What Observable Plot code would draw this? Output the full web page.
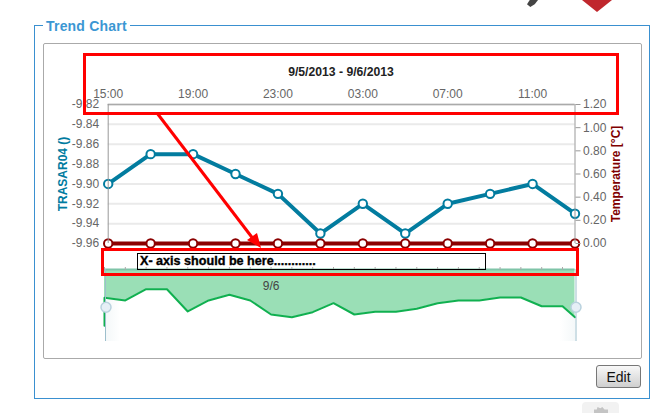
<!DOCTYPE html>
<html><head><meta charset="utf-8">
<script src="https://cdn.jsdelivr.net/npm/d3@7"></script>
<script src="https://cdn.jsdelivr.net/npm/@observablehq/plot@0.6"></script>
<style>
html,body{margin:0;padding:0;background:#fff;overflow:hidden}
#page{position:relative;width:662px;height:413px;overflow:hidden;font-family:"Liberation Sans",Arial,sans-serif}
#page>*{position:absolute}
#page svg{background:transparent}
.layer{left:0;top:0;width:662px;height:413px}
#fieldset{left:34px;top:25px;width:614px;height:372px;border:1px solid #3a90d0}
#legend{left:43px;top:18px;padding:0 3px;background:#fff;color:#3b97d3;font-weight:bold;font-size:14px;line-height:17px;letter-spacing:.2px}
#inner{left:43px;top:43px;width:597px;height:314px;border:1px solid #aaa;border-radius:2px}
#title{left:0;width:682px;top:65px;text-align:center;font-weight:bold;font-size:12.2px;line-height:15px;color:#222}
#box1{left:83px;top:53px;width:530px;height:56px;border:3px solid #f00}
#box2{left:101px;top:248px;width:472px;height:22px;border:3px solid #f00}
#box3{left:137px;top:253px;width:347px;height:15px;border:1px solid #000}
#note{left:140px;top:254px;font:bold 12.6px "Liberation Sans",sans-serif;line-height:15px;color:#000;white-space:pre;-webkit-text-stroke:.35px #000}
#edit{left:596px;top:365px;width:43px;height:21px;border:1px solid #777;border-radius:3px;background:linear-gradient(#f8f8f8,#cfcfcf);text-align:center;font-size:14px;line-height:22px;color:#111}
#diamond{left:582px;top:-8px;width:30px;height:20px;background:#c0272d;clip-path:polygon(0 40%,100% 40%,50% 100%)}
#icon{left:527px;top:0;width:11px;height:7px;background:#444;clip-path:polygon(25% 0,100% 0,70% 60%,30% 100%,0 60%)}
#gear{left:582px;top:402px;width:37px;height:14px;background:#f2f2f2;border-radius:4px}
#gearGlyph{left:594px;top:407px;width:14px;height:6px;background:#c4c4c4;clip-path:polygon(0 40%,20% 40%,25% 0,45% 20%,60% 0,75% 40%,100% 40%,100% 100%,0 100%)}
#shadeL{left:106px;top:300px;width:14px;height:41px;background:linear-gradient(90deg,#f4f8f9,#fff)}
#shadeR{left:560px;top:300px;width:15px;height:41px;background:linear-gradient(270deg,#f4f8f9,#fff)}
</style></head><body>
<div id="page"></div>
<script>
// Main chart
const times = ["2013-09-05T15:00Z","2013-09-05T17:00Z","2013-09-05T19:00Z","2013-09-05T21:00Z","2013-09-05T23:00Z","2013-09-06T01:00Z","2013-09-06T03:00Z","2013-09-06T05:00Z","2013-09-06T07:00Z","2013-09-06T09:00Z","2013-09-06T11:00Z","2013-09-06T13:00Z"].map(d=>new Date(d));
const trasar = [-9.90,-9.87,-9.87,-9.89,-9.91,-9.95,-9.92,-9.95,-9.92,-9.91,-9.90,-9.93];
const temperature = [0,0,0,0,0,0,0,0,0,0,0,0];
const timeTicks = ["2013-09-05T15:00Z","2013-09-05T19:00Z","2013-09-05T23:00Z","2013-09-06T03:00Z","2013-09-06T07:00Z","2013-09-06T11:00Z"].map(d=>new Date(d));
const trasarTicks = [-9.82,-9.84,-9.86,-9.88,-9.90,-9.92,-9.94,-9.96];
const tempTicks = [0,0.2,0.4,0.6,0.8,1.0,1.2];
// Navigator series (hours from 9/6 00:00, relative value)
const navHours = [-8,-8,-7,-6,-5,-4,-3,-2,-1,0,1,2,3,4,5,6,7,8,9,10,11,12,13,14,14.6];
const navValues = [22,60.7,57,72.6,72.6,41.7,57,64.9,57,37.5,33.8,40.7,53.2,37.5,41.3,41.3,45.4,53.2,57,57,61.1,61.1,49,49,33.8];
const navTicks = [-8,-7,-6,-5,-4,-3,-2,-1,0,1,2,3,4,5,6,7,8,9,10,11,12,13,14];
const midnight = Date.UTC(2013,8,6);
const navTime = h => new Date(midnight + h*3600e3);
const navRows = navHours.map((h,i)=>({t:navTime(h),v:navValues[i]}));

const page = document.getElementById("page");
const add = (id,txt)=>{const d=document.createElement("div");d.id=id;if(txt)d.textContent=txt;page.appendChild(d);return d;};
const font = {fontFamily:'"Liberation Sans",Arial,sans-serif',fontSize:"12px",background:"transparent"};
const frame = {width:662,height:413,marginLeft:107.7,marginRight:87.5,marginTop:104,marginBottom:170,style:font};
const xDomain = [times[0],times[times.length-1]];
const hhmm = d3.utcFormat("%H:%M");
const addPlot = p => {p.classList.add("layer");page.appendChild(p);};

add("icon");add("diamond");add("gear");add("gearGlyph");
add("fieldset");add("inner");add("legend","Trend Chart");
add("shadeL");add("shadeR");

// Navigator
addPlot(Plot.plot({width:662,height:413,marginLeft:104,marginRight:87.5,marginTop:269,marginBottom:72,style:font,
  x:{type:"utc",domain:[navTime(-8),navTime(14.6)]},
  y:{domain:[0,100],axis:null},
  marks:[
    Plot.areaY(navRows,{x:"t",y1:()=>100,y2:"v",fill:"#9adfb6",curve:"linear"}),
    Plot.ruleY([100],{stroke:"#7fc4a8",strokeWidth:2}),
    Plot.line(navRows,{x:"t",y:"v",stroke:"#10b050",strokeWidth:2,curve:"linear"}),
    Plot.axisX({anchor:"top",ticks:navTicks.map(navTime),tickSize:3,stroke:"#aaa",tickFormat:()=>"",label:null}),
    Plot.text(["9/6"],{x:()=>navTime(0),y:()=>76.4,fill:"#444",fontSize:12}),
    Plot.ruleX([navTime(-8)],{dx:1,y1:()=>0,y2:()=>100,stroke:"#9dbfcc",strokeWidth:1}),
    Plot.ruleX([navTime(14.6)],{dx:1,y1:()=>0,y2:()=>100,stroke:"#9dbfcc",strokeWidth:1}),
    Plot.dot([navTime(-8)],{x:d=>d,y:()=>47.5,dx:1.5,r:5,fill:"#e6eff6",stroke:"#b9d2de",strokeWidth:1.5}),
    Plot.dot([navTime(14.6)],{x:d=>d,y:()=>47.5,dx:1,r:5,fill:"#e6eff6",stroke:"#b9d2de",strokeWidth:1.5})
  ]}));

// TRASAR04, left axis and top time axis
addPlot(Plot.plot({...frame,
  x:{type:"utc",domain:xDomain},
  y:{domain:[-9.96,-9.82]},
  marks:[
    Plot.gridY(trasarTicks,{stroke:"#eaeaea",strokeOpacity:1,strokeWidth:2}),
    Plot.ruleY([-9.82],{stroke:"#aaa",strokeWidth:1.5}),
    Plot.axisX({anchor:"top",ticks:timeTicks,tickSize:0,tickPadding:7,tickFormat:hhmm,label:null,fill:"#666",fontSize:12}),
    Plot.axisY({anchor:"left",ticks:trasarTicks,tickSize:0,tickPadding:9,tickFormat:d=>d.toFixed(2),label:null,fill:"#666",fontSize:12}),
    Plot.text(["TRASAR04 ()"],{frameAnchor:"left",textAnchor:"middle",dx:-45,rotate:-90,fill:"#007ba0",fontWeight:"bold",fontSize:12}),
    Plot.line(times,{x:d=>d,y:(d,i)=>trasar[i],stroke:"#027c9f",strokeWidth:4,curve:"linear"}),
    Plot.dot(times,{x:d=>d,y:(d,i)=>trasar[i],r:4.2,fill:"#fff",stroke:"#027c9f",strokeWidth:2})
  ]}));

// Temperature, right axis
addPlot(Plot.plot({...frame,
  x:{type:"utc",domain:xDomain,axis:null},
  y:{domain:[0,1.2],axis:null},
  marks:[
    Plot.line(times,{x:d=>d,y:(d,i)=>temperature[i],stroke:"#8b0000",strokeWidth:4,curve:"linear"}),
    Plot.dot(times,{x:d=>d,y:(d,i)=>temperature[i],r:4.2,fill:"#fff",stroke:"#8b0000",strokeWidth:2}),
    Plot.ruleX([xDomain[0]],{y1:()=>0,y2:()=>1.2,stroke:"#999",strokeWidth:1}),
    Plot.ruleX([xDomain[1]],{y1:()=>0,y2:()=>1.2,stroke:"#999",strokeWidth:1}),
    Plot.axisY({anchor:"right",ticks:tempTicks,tickSize:5,tickPadding:3,stroke:"#999",tickFormat:d=>d.toFixed(2),label:null,fill:"#666",fontSize:12}),
    Plot.text(["Temperature [°C]"],{frameAnchor:"right",textAnchor:"middle",dx:41,rotate:-90,fill:"#800000",fontWeight:"bold",fontSize:12})
  ]}));

add("title","9/5/2013 - 9/6/2013");
add("box1");add("box2");add("box3");
add("note","X- axis should be here............");
add("edit","Edit");

// Hand-drawn red arrow annotation
const ns="http://www.w3.org/2000/svg";
const ov=document.createElementNS(ns,"svg");
ov.setAttribute("class","layer");ov.setAttribute("width",662);ov.setAttribute("height",413);
ov.innerHTML='<line x1="157" y1="113" x2="254" y2="240" stroke="#f00" stroke-width="3"/><polygon points="261,248 247,240 257,233" fill="#f00"/>';
page.appendChild(ov);
</script>
</body></html>
